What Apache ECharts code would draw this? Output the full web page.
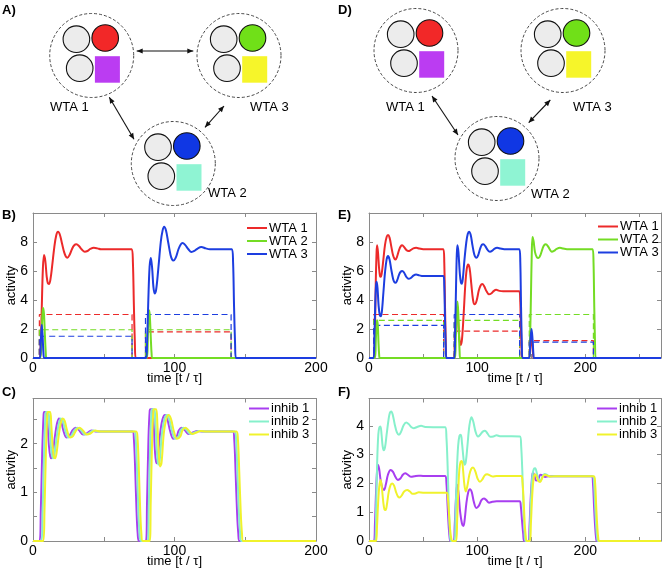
<!DOCTYPE html>
<html><head><meta charset="utf-8">
<script src="https://cdn.jsdelivr.net/npm/echarts@6/dist/echarts.min.js"></script>
<style>html,body{margin:0;padding:0;background:#fff}#c{width:664px;height:570px}</style>
</head><body><div id="c"></div><script>
// ---------- tick labels ----------
const xLabels = [0, 100, 200];
const yLabelsB = [0, 2, 4, 6, 8];
const yLabelsC = [0, 1, 2];
const yLabelsF = [0, 1, 2, 3, 4];
const wtaNames = ['WTA 1', 'WTA 2', 'WTA 3'];
const inhNames = ['inhib 1', 'inhib 2', 'inhib 3'];
const groupLabels = ['WTA 1', 'WTA 2', 'WTA 3'];

// ---------- panel B (activity of WTA winners) ----------
const b_wta1 = [[0,0],[4.6,0],[5.4,0.8],[6.2,3.5],[7,6.2],[7.8,7.1],[8.7,6.7],[9.7,5.6],[10.5,5.15],[11.3,5.1],[12.3,5.4],[13.6,6.4],[15,7.6],[16.4,8.45],[17.7,8.7],[19,8.5],[20.5,7.9],[22,7.3],[23.2,7.0],[24.3,6.92],[25.8,7.1],[27.5,7.5],[29,7.76],[30.7,7.84],[32.5,7.72],[34.5,7.48],[36.6,7.33],[38.5,7.38],[40.5,7.52],[43,7.6],[45.5,7.56],[48,7.5],[55,7.5],[69.8,7.5],[70.6,6.6],[71.3,3.6],[72,1],[72.6,0],[75,0],[200,0]];
const b_wta2 = [[0,0],[5.2,0],[6,1.6],[6.8,3.2],[7.2,3.45],[7.8,3.0],[8.4,1.6],[9,0.4],[9.5,0],[80.5,0],[81.2,1.6],[81.9,3.3],[82.5,3.0],[83.2,1.5],[83.8,0.3],[84.3,0],[200,0]];
const b_wta3 = [[0,0],[4.8,0],[5.5,1.1],[6.2,2.3],[6.8,1.5],[7.4,0.3],[8,0],[80,0],[80.6,1.0],[81.5,4.0],[82.4,6.3],[83.3,6.9],[84.2,6.2],[85.1,4.9],[86,4.45],[87,4.7],[88.5,6.1],[90.3,8.0],[91.6,8.8],[92.7,9.06],[94,8.8],[95.5,8.0],[97.2,7.1],[98.3,6.8],[99.3,6.73],[100.8,6.9],[102.8,7.5],[104.5,7.85],[105.7,7.93],[107.5,7.8],[109.8,7.5],[112,7.31],[114,7.38],[116.3,7.55],[119,7.65],[122,7.56],[125,7.5],[140.6,7.5],[141.4,6.6],[142.1,3.5],[142.8,1],[143.4,0],[146,0],[200,0]];
const b_in1 = [[0,0],[4.5,0],[4.5,3],[70,3],[70,0],[79.5,0],[79.5,1.8],[140,1.8],[140,0],[200,0]];
const b_in2 = [[0,0],[4.5,0],[4.5,1.95],[70,1.95],[70,0],[79.5,0],[79.5,1.95],[140,1.95],[140,0],[200,0]];
const b_in3 = [[0,0],[4.5,0],[4.5,1.5],[70,1.5],[70,0],[79.5,0],[79.5,3],[140,3],[140,0],[200,0]];

// ---------- panel C (inhibitory activity) ----------
const c_inh1 = [[0,0],[4.6,0],[5.5,0.6],[6.5,1.8],[7.5,2.6],[8,2.65],[9.5,2.65],[10.3,2.4],[11.3,1.95],[12.2,1.74],[13,1.7],[14,1.8],[15.5,2.15],[17,2.42],[18.4,2.52],[19.8,2.47],[21.5,2.27],[23.6,2.13],[25.5,2.15],[28,2.28],[30.2,2.33],[32.5,2.28],[35.4,2.19],[38,2.21],[41.3,2.27],[45,2.25],[50,2.25],[70.3,2.25],[71.3,2.1],[72.3,1.4],[73.2,0.6],[74,0.15],[75,0],[79.8,0],[80.6,0.8],[81.6,2.1],[82.5,2.68],[83.1,2.71],[84.5,2.71],[85.3,2.4],[86.3,1.8],[87.2,1.6],[88.2,1.7],[89.8,2.2],[91.5,2.5],[93.3,2.59],[95,2.5],[97,2.25],[99.2,2.1],[101.5,2.15],[103,2.27],[105.1,2.33],[107.5,2.27],[110,2.2],[113,2.23],[116,2.26],[120,2.25],[141.2,2.25],[142.2,2.1],[143.2,1.4],[144.2,0.6],[145.1,0.15],[146,0],[200,0]];
const c_inh2 = [[0,0],[5.9,0],[6.8,0.6],[7.8,1.8],[8.8,2.6],[9.3,2.65],[10.8,2.65],[11.6,2.4],[12.6,1.95],[13.5,1.74],[14.3,1.7],[15.3,1.8],[16.8,2.15],[18.3,2.42],[19.7,2.52],[21.1,2.47],[22.8,2.27],[24.9,2.13],[26.8,2.15],[29.3,2.28],[31.5,2.33],[33.8,2.28],[36.7,2.19],[39.3,2.21],[42.6,2.27],[46.3,2.25],[51.3,2.25],[71.6,2.25],[72.6,2.1],[73.6,1.4],[74.5,0.6],[75.3,0.15],[76.3,0],[81.1,0],[81.9,0.8],[82.9,2.1],[83.8,2.68],[84.4,2.71],[85.8,2.71],[86.6,2.4],[87.6,1.8],[88.5,1.57],[89.5,1.65],[91.1,2.2],[92.8,2.5],[94.6,2.59],[96.3,2.5],[98.3,2.25],[100.5,2.1],[102.8,2.15],[104.3,2.27],[106.4,2.33],[108.8,2.27],[111.3,2.2],[114.3,2.23],[117.3,2.26],[121.3,2.25],[142.5,2.25],[143.5,2.1],[144.5,1.4],[145.5,0.6],[146.4,0.15],[147.3,0],[200,0]];
const c_inh3 = [[0,0],[7.2,0],[8.1,0.6],[9.1,1.8],[10.1,2.6],[10.6,2.65],[12.1,2.65],[12.9,2.4],[13.9,1.95],[14.8,1.72],[15.6,1.7],[16.6,1.8],[18.1,2.15],[19.6,2.42],[21,2.52],[22.4,2.47],[24.1,2.27],[26.2,2.13],[28.1,2.15],[30.6,2.28],[32.8,2.33],[35.1,2.28],[38,2.19],[40.6,2.21],[43.9,2.27],[47.6,2.25],[52.6,2.25],[72.9,2.25],[73.9,2.1],[74.9,1.4],[75.8,0.6],[76.6,0.15],[77.6,0],[82.4,0],[83.2,0.8],[84.2,2.1],[85.1,2.68],[85.7,2.71],[87.1,2.71],[87.9,2.4],[88.9,1.8],[89.8,1.53],[90.8,1.6],[92.4,2.2],[94.1,2.5],[95.9,2.59],[97.6,2.5],[99.6,2.25],[101.8,2.1],[104.1,2.15],[105.6,2.27],[107.7,2.33],[110.1,2.27],[112.6,2.2],[115.6,2.23],[118.6,2.26],[122.6,2.25],[143.8,2.25],[144.8,2.1],[145.8,1.4],[146.8,0.6],[147.7,0.15],[148.6,0],[200,0]];

// ---------- panel E ----------
const e_wta1 = [[0,0],[4.6,0],[5.4,1.5],[6.2,5],[7,7.3],[7.5,7.77],[8.3,7.3],[9.3,6.2],[10.2,5.65],[10.9,5.6],[11.9,5.9],[13.3,6.8],[14.8,7.8],[16.3,8.35],[17.6,8.48],[19,8.3],[20.6,7.7],[22.2,7.1],[23.5,6.85],[24.6,6.8],[26,7.0],[27.8,7.45],[29.3,7.7],[30.7,7.77],[32.5,7.65],[34.5,7.45],[36.6,7.38],[38.7,7.45],[41,7.56],[43.6,7.6],[46.5,7.55],[50,7.5],[68.8,7.5],[69.6,6.6],[70.3,3.5],[71,1],[71.6,0],[74,0],[78.8,0],[79.6,1.5],[80.5,3.0],[81.4,3.5],[82.4,2.6],[83.6,1.3],[84.9,0.9],[86,1.3],[87.5,3.0],[89,5.0],[90.3,6.1],[91.6,6.45],[93,6.2],[94.6,5.1],[96.2,4.0],[97.7,3.7],[99.5,3.95],[101.5,4.65],[103.2,5.0],[104.7,5.1],[106.5,4.95],[108.7,4.6],[110.9,4.4],[113,4.45],[115.5,4.63],[117.6,4.7],[120.5,4.63],[124,4.6],[139,4.6],[139.8,4.0],[140.5,2.0],[141.2,0.5],[141.7,0],[148,0],[149.2,0.8],[150.2,1.5],[151,1.0],[151.8,0.2],[152.3,0],[270,0]];
const e_wta2 = [[0,0],[5.5,0],[6.3,1.2],[7.1,2.4],[7.6,2.6],[8.2,2.2],[8.8,1],[9.4,0.2],[9.8,0],[79.5,0],[80.3,1.5],[81.1,3.0],[81.8,3.9],[82.5,3.2],[83.2,1.6],[83.8,0.4],[84.3,0],[148.2,0],[149,1.5],[149.8,4.5],[150.5,7.2],[151.2,8.35],[152.2,8.05],[153.5,7.3],[155.2,6.95],[156.7,6.9],[158.5,7.1],[160.5,7.55],[162,7.78],[163.5,7.84],[165.5,7.7],[167.5,7.45],[169,7.33],[171,7.38],[173.5,7.52],[176.6,7.6],[179.5,7.55],[183,7.5],[206.8,7.5],[207.6,6.6],[208.3,3.5],[209,1],[209.6,0],[212,0],[270,0]];
const e_wta3 = [[0,0],[4.2,0],[5,1.5],[5.8,3.8],[6.5,5.0],[7.1,5.26],[7.9,4.8],[8.9,3.6],[10,2.95],[10.9,2.88],[11.9,3.2],[13.3,4.5],[14.8,5.9],[16.3,6.8],[17.6,7.03],[19,6.8],[20.6,6.1],[22.3,5.45],[23.5,5.22],[24.6,5.19],[26,5.35],[27.8,5.75],[29.3,5.95],[30.7,6.0],[32.5,5.88],[34.5,5.6],[36.6,5.46],[38.7,5.52],[41,5.68],[43.6,5.76],[46.5,5.7],[50,5.65],[68.8,5.65],[69.6,5],[70.3,2.6],[71,0.7],[71.6,0],[74,0],[79,0],[79.7,2],[80.5,5],[81.2,7.2],[81.8,7.77],[82.7,7.3],[84,5.8],[85,5.2],[85.8,5.12],[86.8,5.5],[88.3,6.8],[90,8.0],[91.3,8.55],[92.5,8.71],[94,8.5],[95.6,7.8],[97.3,7.15],[98.5,6.95],[99.5,6.92],[101,7.1],[102.8,7.55],[104.3,7.8],[105.7,7.84],[107.5,7.72],[109.7,7.45],[111.8,7.33],[114,7.4],[116.2,7.55],[118.5,7.6],[121.5,7.55],[125,7.5],[139.1,7.5],[139.9,6.6],[140.6,3.5],[141.3,1],[141.9,0],[148,0],[149.2,1.2],[150.3,2.0],[151.2,1.3],[152,0.3],[152.5,0],[270,0]];
const e_in1 = [[0,0],[4.3,0],[4.3,3],[69,3],[69,0],[78.8,0],[78.8,1.85],[139.3,1.85],[139.3,0],[148.2,0],[148.2,1.2],[207.5,1.2],[207.5,0],[270,0]];
const e_in2 = [[0,0],[4.3,0],[4.3,2.6],[69,2.6],[69,0],[78.8,0],[78.8,2.6],[139.3,2.6],[139.3,0],[148.2,0],[148.2,3],[207.5,3],[207.5,0],[270,0]];
const e_in3 = [[0,0],[4.3,0],[4.3,2.25],[69,2.25],[69,0],[78.8,0],[78.8,3],[139.3,3],[139.3,0],[148.2,0],[148.2,1.1],[207.5,1.1],[207.5,0],[270,0]];

// ---------- panel F ----------
const f_inh1 = [[0,0],[4.5,0],[5.5,0.6],[6.6,1.8],[7.6,2.5],[8.4,2.64],[9.4,2.5],[10.8,2.1],[12.3,1.85],[13.9,1.77],[15.5,1.95],[17.5,2.3],[20,2.47],[22.2,2.4],[24.5,2.22],[26.7,2.12],[29,2.17],[31.3,2.3],[33.5,2.35],[36,2.3],[39,2.23],[42,2.25],[46,2.27],[50,2.26],[70.5,2.26],[71.6,2.0],[72.7,1.2],[73.7,0.5],[74.6,0.1],[75.5,0],[78.3,0],[79.2,0.5],[80.3,1.4],[81.5,1.95],[82.7,1.7],[84.3,1.0],[86,0.6],[87.3,0.52],[88.5,0.75],[90,1.3],[91.8,1.7],[93.4,1.8],[95,1.7],[97,1.35],[99.2,1.15],[101.5,1.22],[104,1.42],[106.3,1.48],[108.5,1.42],[111,1.33],[114,1.36],[118,1.38],[139.3,1.38],[140.4,1.2],[141.5,0.7],[142.6,0.25],[143.6,0],[147.5,0],[148.4,0.5],[149.4,1.4],[150.5,2.1],[151.5,2.38],[152.8,2.3],[154.5,2.1],[156.3,2.12],[158.5,2.3],[160.5,2.28],[163,2.22],[166,2.25],[170,2.25],[206,2.25],[207.1,2.0],[208.1,1.2],[209.1,0.5],[210,0.1],[210.9,0],[270,0]];
const f_inh2 = [[0,0],[5.6,0],[6.6,1.2],[7.6,2.8],[8.6,3.7],[9.6,3.95],[10.6,3.98],[11.6,3.7],[12.6,3.3],[13.7,3.15],[14.8,3.25],[16.3,3.7],[18,4.2],[19.3,4.45],[20.6,4.5],[22,4.38],[23.8,4.05],[25.8,3.77],[27.7,3.69],[29.7,3.8],[32,4.02],[34.4,4.12],[36.8,4.06],[39,3.96],[41.4,3.92],[44.5,3.96],[48.2,4.0],[52,3.96],[70.5,3.95],[71.6,3.6],[72.7,2.6],[73.7,1.3],[74.7,0.4],[75.7,0],[79,0],[80,0.9],[81.2,2.4],[82.4,3.3],[83.6,3.65],[84.9,3.69],[86,3.4],[87.3,2.9],[88.3,2.65],[89.5,2.75],[91,3.3],[92.8,4.0],[94.7,4.3],[96.4,4.15],[98.5,3.8],[100.8,3.63],[103,3.7],[105.2,3.8],[107.2,3.83],[109.5,3.74],[112,3.62],[115,3.63],[118,3.67],[121,3.64],[139.6,3.63],[140.7,3.3],[141.8,2.4],[142.8,1.2],[143.8,0.35],[144.7,0],[148,0],[149,0.6],[150,1.6],[151.2,2.3],[152.4,2.5],[153.7,2.53],[155.2,2.35],[157,2.12],[158.6,2.1],[160.5,2.25],[162.5,2.33],[164.5,2.3],[167,2.24],[171,2.25],[207,2.25],[208.1,2.0],[209.1,1.2],[210.1,0.5],[211,0.1],[211.9,0],[270,0]];
const f_inh3 = [[0,0],[6.4,0],[7.4,0.5],[8.4,1.3],[9.5,1.9],[10.8,2.12],[11.9,1.85],[13.2,1.35],[14.3,1.1],[15.4,1.08],[16.5,1.25],[18.2,1.7],[20,1.95],[21.6,2.0],[23.2,1.92],[25,1.7],[26.7,1.55],[28.3,1.51],[30.2,1.58],[32.5,1.72],[35.3,1.77],[37.8,1.72],[40.3,1.64],[43,1.65],[46,1.69],[50,1.68],[71.8,1.68],[72.9,1.5],[74,0.95],[75,0.4],[76,0.1],[77,0],[80.5,0],[81.5,0.7],[82.6,1.8],[83.6,2.5],[84.7,2.75],[85.8,2.78],[86.9,2.5],[88.2,1.95],[89.5,1.72],[90.9,1.9],[92.8,2.3],[94.5,2.5],[96.2,2.55],[98.3,2.42],[100.5,2.16],[102.6,2.06],[104.8,2.14],[107,2.28],[109.3,2.32],[111.8,2.28],[114.5,2.24],[118,2.26],[140.8,2.26],[141.9,2.05],[143,1.4],[144,0.6],[145,0.15],[146,0],[148.7,0],[149.7,0.6],[150.8,1.5],[152,2.1],[153.3,2.32],[154.6,2.28],[156.3,2.1],[158.3,2.05],[160.3,2.2],[162.5,2.3],[165,2.27],[168,2.24],[172,2.25],[208,2.25],[209.1,2.0],[210.1,1.2],[211.1,0.5],[212,0.1],[212.9,0],[270,0]];

// ---------- styling ----------
const FONT = '"Liberation Sans", Arial, Helvetica, sans-serif';
const RED = '#ec2a2a', GREEN = '#74dc24', BLUE = '#1d3ee0';
const PURPLE = '#a83ef0', CYAN = '#86f0cb', YELLOW = '#f0f22c';
const AX = '#8a8a8a';

const grids = [
  {left: 33, top: 213, width: 283, height: 145},   // B
  {left: 369, top: 213, width: 293, height: 145},  // E
  {left: 33, top: 398.5, width: 283, height: 142.5}, // C
  {left: 369, top: 398.5, width: 293, height: 142.5} // F
];
const xMax = [200, 270, 200, 270];
const yMax = [10, 10, 2.93, 4.95];
const yInt = [2, 2, 0.5, 1];
const yLab = [yLabelsB, yLabelsB, yLabelsC, yLabelsF];

const xAxes = [], yAxes = [];
grids.forEach((g, i) => {
  const common = {gridIndex: i, type: 'value', min: 0, splitLine: {show: false},
    axisLine: {show: true, onZero: false, lineStyle: {color: AX, width: 1}},
    axisTick: {show: true, inside: true, length: 4, lineStyle: {color: AX}}};
  xAxes.push(Object.assign({}, common, {position: 'bottom', max: xMax[i], interval: 50,
    axisLabel: {fontSize: 14, fontFamily: FONT, color: '#000', margin: 3,
      formatter: v => xLabels.includes(v) ? String(v) : ''},
    name: 'time [t / τ]', nameLocation: 'middle', nameGap: 14, nameMoveOverlap: false,
    nameTextStyle: {fontSize: 13, fontFamily: FONT, color: '#000'}}));
  xAxes.push(Object.assign({}, common, {position: 'top', max: xMax[i], interval: 50, axisLabel: {show: false}}));
  yAxes.push(Object.assign({}, common, {position: 'left', max: yMax[i], interval: yInt[i],
    axisLabel: {fontSize: 14, fontFamily: FONT, color: '#000', margin: 5,
      formatter: v => yLab[i].includes(v) ? String(v) : ''},
    name: 'activity', nameLocation: 'middle', nameGap: 15, nameRotate: 90, nameMoveOverlap: false,
    nameTextStyle: {fontSize: 13, fontFamily: FONT, color: '#000'}}));
  yAxes.push(Object.assign({}, common, {position: 'right', max: yMax[i], interval: yInt[i], axisLabel: {show: false}}));
});

const series = [];
function line(gi, data, color, name, dashed) {
  series.push({
    type: 'line', name: name, xAxisIndex: gi * 2, yAxisIndex: gi * 2, data: data,
    color: color, showSymbol: false, symbol: 'none', smooth: dashed ? false : 0.35,
    lineStyle: {color: color, width: dashed ? 1.2 : 2, type: dashed ? [6, 3.5] : 'solid'},
    silent: true, animation: false, z: dashed ? 3 : 4
  });
}
// B
line(0, b_in1, RED, 'b_in1', true); line(0, b_in2, GREEN, 'b_in2', true); line(0, b_in3, BLUE, 'b_in3', true);
line(0, b_wta1, RED, wtaNames[0]); line(0, b_wta2, GREEN, wtaNames[1]); line(0, b_wta3, BLUE, wtaNames[2]);
// E
line(1, e_in1, RED, 'e_in1', true); line(1, e_in2, GREEN, 'e_in2', true); line(1, e_in3, BLUE, 'e_in3', true);
line(1, e_wta1, RED, wtaNames[0]); line(1, e_wta2, GREEN, wtaNames[1]); line(1, e_wta3, BLUE, wtaNames[2]);
// C
line(2, c_inh1, PURPLE, inhNames[0]); line(2, c_inh2, CYAN, inhNames[1]); line(2, c_inh3, YELLOW, inhNames[2]);
// F
line(3, f_inh1, PURPLE, inhNames[0]); line(3, f_inh2, CYAN, inhNames[1]); line(3, f_inh3, YELLOW, inhNames[2]);

function legend(names, left, top) {
  return {data: names, orient: 'vertical', left: left, top: top, padding: 0, itemGap: 0,
    itemWidth: 20, itemHeight: 2, icon: 'rect', selectedMode: false,
    textStyle: {fontSize: 13, fontFamily: FONT, color: '#000', lineHeight: 11, padding: [0, 0, 0, -3]}};
}

// ---------- diagrams (panels A and D) ----------
const graphics = [];
function wta(cx, cy, col, sq) {
  graphics.push({type: 'circle', shape: {cx: cx, cy: cy, r: 42}, style: {fill: null, stroke: '#333', lineWidth: 0.9, lineDash: [3, 2]}});
  graphics.push({type: 'circle', shape: {cx: cx - 15.3, cy: cy - 16.3, r: 13.3}, style: {fill: '#ececec', stroke: '#111', lineWidth: 1.1}});
  graphics.push({type: 'circle', shape: {cx: cx + 13.5, cy: cy - 17.5, r: 13.3}, style: {fill: col, stroke: '#111', lineWidth: 1.1}});
  graphics.push({type: 'circle', shape: {cx: cx - 12, cy: cy + 12.7, r: 13.3}, style: {fill: '#ececec', stroke: '#111', lineWidth: 1.1}});
  graphics.push({type: 'rect', shape: {x: cx + 3.2, y: cy + 0.7, width: 25, height: 26.5}, style: {fill: sq}});
}
function label(txt, x, y, size, bold) {
  graphics.push({type: 'text', x: x, y: y, style: {text: txt, fill: '#000', font: (bold ? 'bold ' : '') + size + 'px ' + FONT,
    textVerticalAlign: 'middle', verticalAlign: 'middle', textAlign: 'left', align: 'left'}});
}
function arrow(x1, y1, x2, y2) {
  graphics.push({type: 'line', shape: {x1: x1, y1: y1, x2: x2, y2: y2}, style: {stroke: '#111', lineWidth: 1.1}});
  const L = Math.hypot(x2 - x1, y2 - y1), ux = (x2 - x1) / L, uy = (y2 - y1) / L, h = 6, w = 2.6;
  [[x2, y2, 1], [x1, y1, -1]].forEach(([tx, ty, s]) => {
    const bx = tx - s * ux * h, by = ty - s * uy * h;
    graphics.push({type: 'polygon', shape: {points: [[tx, ty], [bx - uy * w, by + ux * w], [bx + uy * w, by - ux * w]]}, style: {fill: '#111'}});
  });
}
const RC = '#f22828', GC = '#70e018', BC = '#1037e4', PS = '#bb3cf2', YS = '#f6f52a', CS = '#8ff4d3';
// A
wta(91.7, 55.5, RC, PS); wta(239, 55.5, GC, YS); wta(173.3, 163.5, BC, CS);
arrow(136.7, 51, 193.3, 51); arrow(109.3, 97.3, 134, 139.3); arrow(224, 106, 205, 127.3);
label(groupLabels[0], 50, 107, 13); label(groupLabels[2], 250, 107, 13); label(groupLabels[1], 208, 193.5, 13);
// D
wta(416, 50.5, RC, PS); wta(563, 50.5, GC, YS); wta(497, 158.5, BC, CS);
arrow(432, 96, 458, 135); arrow(550.3, 100, 528.7, 122.7);
label(groupLabels[0], 386, 107.5, 13); label(groupLabels[2], 573, 107.5, 13); label(groupLabels[1], 531, 194, 13);
// panel letters
label('A)', 2, 10, 13, true); label('D)', 338, 10, 13, true);
label('B)', 2, 215, 13, true); label('E)', 338, 215, 13, true);
label('C)', 2, 392, 13, true); label('F)', 338, 392, 13, true);

const chart = echarts.init(document.getElementById('c'), null, {renderer: 'canvas'});
chart.setOption({
  animation: false,
  backgroundColor: '#fff',
  grid: grids,
  xAxis: xAxes,
  yAxis: yAxes,
  legend: [legend(wtaNames, 247, 221.5), legend(wtaNames, 598, 220), legend(inhNames, 249, 402), legend(inhNames, 597, 402)],
  series: series,
  graphic: graphics
});
</script></body></html>
